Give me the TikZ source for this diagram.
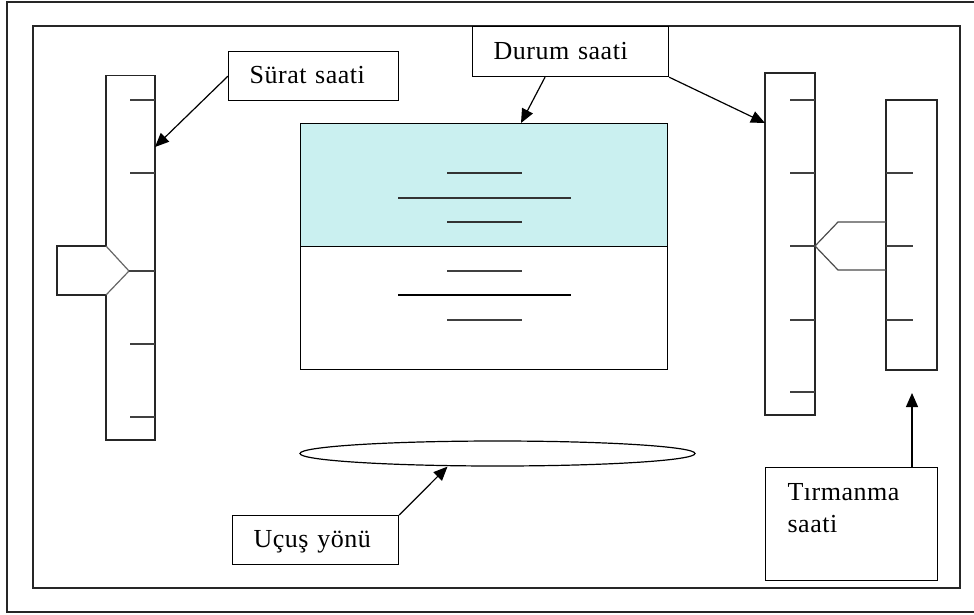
\documentclass[tikz,border=0pt]{standalone}
\usepackage{fontspec}
\newfontfamily\lblfont{Liberation Serif}[LetterSpace=2]
\usetikzlibrary{arrows.meta,shapes.geometric}
\definecolor{panelcyan}{RGB}{202,240,240}
\begin{document}
\begin{tikzpicture}[x=1pt,y=-1pt,line width=1.2pt,
  frame/.style={draw=black!85,line width=1.4pt},
  labelbox/.style={draw,fill=white,inner xsep=21pt,inner ysep=0pt,align=left,
    font=\lblfont\fontsize{26}{32}\selectfont,text height=19pt,text depth=4pt,
    anchor=north west},
  pointer/.style={-{Triangle[length=14pt,width=12pt]},line width=1.2pt},
  tick/.style={draw=black!75,line width=1.3pt},
  gauge/.style={draw=black!85,line width=1.2pt},
  panel/.style={draw,inner sep=0pt,anchor=north west,minimum width=367pt,minimum height=123pt}]
\useasboundingbox (0,0) rectangle (974,614);
\clip (0,0) rectangle (974,614);
\fill[white] (0,0) rectangle (974,614);

% frames
\draw[frame] (7,2) rectangle (990,612);
\draw[frame] (33,26) rectangle (960,588);

% speed tape (left)
\draw[gauge] (106,246) -- (106,75.5) -- (155,75.5) -- (155,440) -- (106,440) -- (106,295);
\draw[gauge] (106,246) -- (57,246) -- (57,295) -- (106,295);
\draw[gauge,draw=black!60] (106,246) -- (129,271) -- (106,295);
\foreach \ty in {100,173,344,417} \draw[tick] (130,\ty) -- (155,\ty);
\draw[tick] (129,271) -- (155,271);

% altitude tape (right, large)
\draw[gauge] (765,73) rectangle (815,415);
\foreach \ty in {100,173,246,320,392} \draw[tick] (790,\ty) -- (815,\ty);

% climb tape (right, small)
\draw[gauge] (886,100) rectangle (937,370);
\foreach \ty in {173,246,320} \draw[tick] (886,\ty) -- (913,\ty);
\draw[gauge,draw=black!70] (886,222) -- (838,222) -- (815,246) -- (838,270) -- (886,270);

% attitude indicator
\node[panel,fill=panelcyan] (upper) at (300,123) {};
\node[panel,fill=white] (lower) at (300,246) {};
\draw[tick,draw=black!80] (447,173) -- (522,173);
\draw[tick,draw=black!80] (398,198) -- (571,198);
\draw[tick,draw=black!80] (447,222) -- (522,222);
\draw[tick] (447,271) -- (522,271);
\draw[tick,draw=black] (398,295) -- (571,295);
\draw[tick] (447,320) -- (522,320);

% heading indicator
\node[ellipse,draw,inner sep=0pt,minimum width=395pt,minimum height=25pt] (course) at (497.5,453.5) {};

% labels
\node[labelbox,minimum width=170pt,minimum height=49pt,text width=128pt] (surat) at (228,51) {Sürat saati};
\node[labelbox,minimum width=196pt,minimum height=50pt,text width=154pt] (durum) at (472,26) {Durum saati};
\node[labelbox,minimum width=166pt,minimum height=49pt,text width=124pt,inner xsep=19pt] (ucus) at (232,515) {Uçuş yönü};
\node[draw,fill=white,inner sep=0pt,anchor=north west,minimum width=172pt,minimum height=113pt] (tirm) at (765,467) {};
\node[anchor=base west,inner sep=0pt,align=left,text width=140pt,
  font=\lblfont\fontsize{26}{32}\selectfont] (tirmtext) at (787,500) {Tırmanma\\saati};

% connectors
\coordinate (suratTip) at (155,147);
\coordinate (altTip) at (765,123);
\coordinate (climbTip) at (912,393);
\draw[pointer] (surat.west) -- (suratTip);
\draw[pointer] ([xshift=73pt]durum.south west) -- ([xshift=221pt]upper.north west);
\draw[pointer] (durum.south east) -- (altTip);
\draw[pointer] (ucus.north east) -- ([xshift=-50pt]course.south);
\draw[pointer] ([xshift=147pt]tirm.north west) -- (climbTip);
\end{tikzpicture}
\end{document}
